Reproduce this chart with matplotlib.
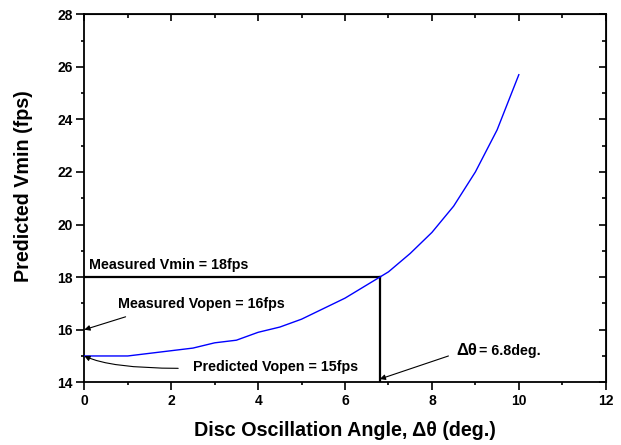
import matplotlib
matplotlib.use('Agg')
import matplotlib.pyplot as plt

plt.rcParams['font.family'] = ['Liberation Sans', 'DejaVu Sans']
plt.rcParams['font.weight'] = 'bold'

# disc oscillation angle (deg.) and predicted Vmin (fps)
angle = [0, 1, 2, 2.5, 3, 3.5, 4, 4.5, 5, 5.5, 6, 6.5, 6.8, 7, 7.5, 8, 8.5, 9, 9.5, 10]
vmin = [15.0, 15.0, 15.2, 15.3, 15.5, 15.6, 15.9, 16.1, 16.4, 16.8, 17.2, 17.7, 18.0,
        18.2, 18.9, 19.7, 20.7, 22.0, 23.6, 25.7]

measured_vmin = 18
measured_vopen = 16
predicted_vopen = 15
delta_theta = 6.8

fig = plt.figure(figsize=(6.21, 4.45), dpi=100)
ax = fig.add_axes([0.1358, 0.141, 0.8396, 0.827])

ax.plot(angle, vmin, color='#0000ff', lw=1.0, zorder=3)
ax.plot([0, delta_theta], [measured_vmin, measured_vmin], color='black', lw=1.6)
ax.plot([delta_theta, delta_theta], [14, measured_vmin], color='black', lw=1.6)

ax.set_xlim(0, 12)
ax.set_ylim(14, 28)
ax.set_xticks(range(0, 13, 2))
ax.set_xticks(range(1, 12, 2), minor=True)
ax.set_yticks(range(14, 29, 2))
ax.set_yticks(range(15, 28, 2), minor=True)
for s in ax.spines.values():
    s.set_linewidth(1.3)
ax.tick_params(which='major', direction='out', length=5.5, width=1.2, labelsize=10, pad=3)
ax.tick_params(which='minor', direction='out', length=2.5, width=1.2)

# inward ticks on top and right, no labels
top = ax.secondary_xaxis('top')
top.set_xticks(range(0, 13, 2))
top.set_xticks(range(1, 12, 2), minor=True)
top.tick_params(which='major', direction='in', length=5, width=1.2, labeltop=False)
top.tick_params(which='minor', direction='in', length=3, width=1.2)
right = ax.secondary_yaxis('right')
right.set_yticks(range(14, 29, 2))
right.set_yticks(range(15, 28, 2), minor=True)
right.tick_params(which='major', direction='in', length=5, width=1.2, labelright=False)
right.tick_params(which='minor', direction='in', length=3, width=1.2)

ax.set_xlabel('Disc Oscillation Angle, \u0394\u03b8 (deg.)', fontsize=14.2, fontweight='bold', labelpad=9)
ax.set_ylabel('Predicted Vmin (fps)', fontsize=14.2, fontweight='bold', labelpad=17)
ax.yaxis.label.set_y(0.532)

arrow = dict(arrowstyle='-|>', color='black', lw=0.8, mutation_scale=8, shrinkA=0, shrinkB=0)

ax.text(0.11, 18.46, 'Measured Vmin = 18fps', fontsize=10.3, fontweight='bold', va='center')
ax.annotate('', xy=(0, measured_vopen), xytext=(0.95, 16.49), arrowprops=arrow)
ax.text(0.78, 16.98, 'Measured Vopen = 16fps', fontsize=10.3, fontweight='bold', va='center')
ax.annotate('', xy=(0, predicted_vopen), xytext=(2.16, 14.53),
            arrowprops=dict(arrow, connectionstyle='angle3,angleA=0,angleB=-25'))
ax.text(2.49, 14.57, 'Predicted Vopen = 15fps', fontsize=10.3, fontweight='bold', va='center')
ax.annotate('', xy=(delta_theta, 14.12), xytext=(8.38, 15.0), arrowprops=arrow)
ax.text(8.57, 15.19, '\u0394\u03b8', fontsize=12, fontweight='bold', va='center')
ax.text(9.08, 15.19, '= 6.8deg.', fontsize=10.3, fontweight='bold', va='center')

fig.savefig('out.png', dpi=100)
